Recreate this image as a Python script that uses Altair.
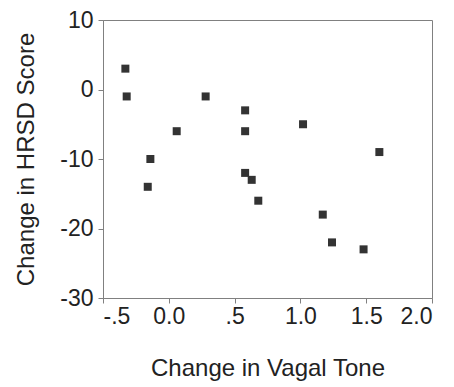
import altair as alt
import pandas as pd

vagal = [-0.33, -0.32, -0.14, -0.16, 0.06, 0.28, 0.58, 0.58, 0.58, 0.63, 0.68, 1.02, 1.17, 1.24, 1.48, 1.60]
hrsd = [3, -1, -10, -14, -6, -1, -3, -6, -12, -13, -16, -5, -18, -22, -23, -9]

df = pd.DataFrame({"vagal": vagal, "hrsd": hrsd})

font = "Liberation Sans"

x_label_expr = ("datum.value == -0.5 ? '-.5' : datum.value == 0 ? '0.0' : datum.value == 0.5 ? '.5' : "
                "datum.value == 1 ? '1.0' : datum.value == 1.5 ? '1.5' : '2.0'")

chart = alt.Chart(df).mark_square(size=64, color="#333333", opacity=1).encode(
    x=alt.X("vagal:Q", title="Change in Vagal Tone",
            scale=alt.Scale(domain=[-0.5, 2.0], nice=False, zero=False),
            axis=alt.Axis(values=[-0.5, 0, 0.5, 1.0, 1.5, 2.0],
                          labelExpr=x_label_expr, labelPadding=2,
                          grid=False, titlePadding=28)),
    y=alt.Y("hrsd:Q", title="Change in HRSD Score",
            scale=alt.Scale(domain=[-30, 10], nice=False, zero=False),
            axis=alt.Axis(values=[-30, -20, -10, 0, 10], grid=False,
                          labelExpr="toString(datum.value)", labelPadding=5,
                          titlePadding=21)),
).properties(
    width=329, height=278,
    autosize=alt.AutoSizeParams(type="none"),
    padding={"left": 95, "top": 12, "right": 14, "bottom": 85},
).configure_axis(
    labelFont=font, titleFont=font, labelFontSize=23, titleFontSize=24,
    labelColor="#222222", titleColor="#222222", titleFontWeight="normal",
    domainColor="#808080", tickColor="#808080", tickSize=5,
).configure_view(stroke="#808080", strokeWidth=1)

chart.save("out.html", embed_options={"renderer": "svg", "actions": False})
